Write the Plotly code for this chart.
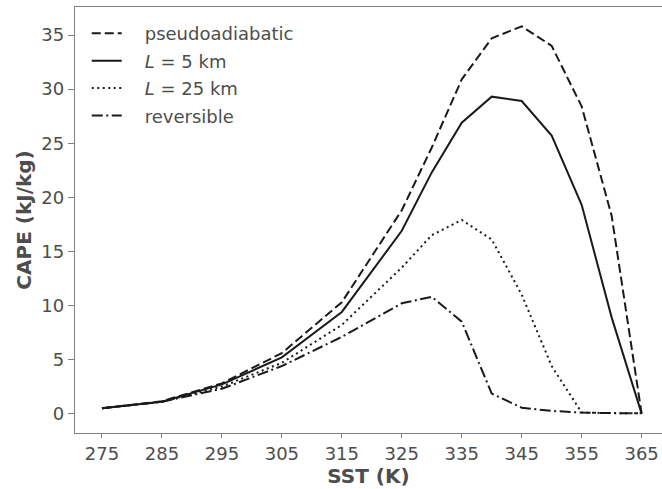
import plotly.graph_objects as go

sst = [275, 285, 295, 305, 315, 325, 330, 335, 340, 345, 350, 355, 360, 365]
pseudo = [0.5, 1.15, 2.8, 5.6, 10.3, 18.8, 24.6, 30.9, 34.7, 35.8, 34.0, 28.4, 18.3, 0.0]
l5 = [0.5, 1.1, 2.7, 5.2, 9.4, 16.9, 22.3, 26.9, 29.3, 28.9, 25.7, 19.3, 8.9, 0.0]
l25 = [0.5, 1.1, 2.5, 4.7, 8.2, 13.5, 16.5, 17.9, 16.1, 11.0, 4.4, 0.1, 0.05, 0.03]
rev = [0.5, 1.1, 2.3, 4.4, 7.1, 10.2, 10.8, 8.5, 1.85, 0.55, 0.25, 0.1, 0.05, 0.03]

xticks = [275, 285, 295, 305, 315, 325, 335, 345, 355, 365]
yticks = [0, 5, 10, 15, 20, 25, 30, 35]

series = [
    ("pseudoadiabatic", pseudo, "9px,4px"),
    ("<i>L</i> = 5 km", l5, "solid"),
    ("<i>L</i> = 25 km", l25, "2px,3.5px"),
    ("reversible", rev, "11px,3.5px,2px,3.5px"),
]

fig = go.Figure()
for i, (name, ys, dash) in enumerate(series):
    fig.add_trace(go.Scatter(
        x=sst, y=ys, mode="lines", name="\u2003" + name, legendgroup=f"g{i}",
        line=dict(color="#1a1a1a", width=2, dash=dash),
    ))

axis_common = dict(
    showgrid=False, zeroline=False, showline=True, linecolor="#808080", linewidth=1.3,
    ticks="outside", tickwidth=1.2, tickcolor="#808080",
    tickfont=dict(family="DejaVu Sans", size=18, color="#4d4d4d"),
)

fig.update_layout(
    width=662, height=489,
    margin=dict(l=75, r=0, t=7, b=56),
    plot_bgcolor="white", paper_bgcolor="white",
    showlegend=True,
    legend=dict(
        x=0.02, y=0.981, xanchor="left", yanchor="top",
        bgcolor="rgba(0,0,0,0)", borderwidth=0,
        font=dict(family="DejaVu Sans", size=18, color="#4d4d4d"),
        traceorder="grouped", tracegroupgap=1,
    ),
    xaxis=dict(
        range=[270.5, 368.4], tickvals=xticks, mirror=True, ticklen=4,
        title=dict(text="<b>SST (K)</b>", standoff=0,
                   font=dict(family="DejaVu Sans", size=20, color="#4d4d4d")),
        **axis_common,
    ),
    yaxis=dict(
        range=[-1.79, 37.59], tickvals=yticks, ticklen=6,
        title=dict(text="<b>CAPE (kJ/kg)</b>", standoff=4,
                   font=dict(family="DejaVu Sans", size=20, color="#4d4d4d")),
        **axis_common,
    ),
)

fig.write_html("out.html")
